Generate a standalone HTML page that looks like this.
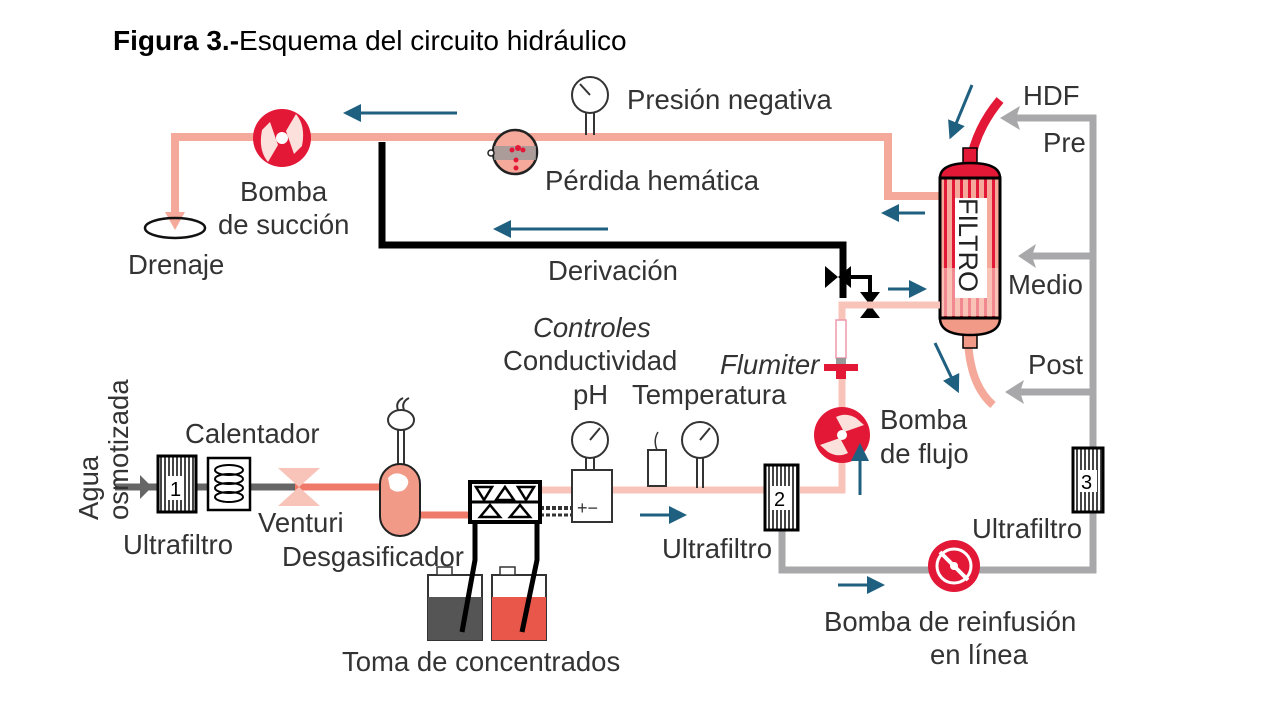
<!DOCTYPE html>
<html><head><meta charset="utf-8"><style>
html,body{margin:0;padding:0;background:#fff;}
svg{display:block;}
text{font-family:"Liberation Sans",Arial,sans-serif;fill:#333;font-size:27.5px;}
</style></head><body>
<svg width="1280" height="720" viewBox="0 0 1280 720" xmlns="http://www.w3.org/2000/svg">
<defs>
<marker id="bl" markerWidth="6" markerHeight="6" refX="3" refY="3" orient="auto" markerUnits="strokeWidth"><path d="M0,0 L6,3 L0,6 z" fill="#1f5f7f"/></marker>
<pattern id="st" width="4" height="4" patternUnits="userSpaceOnUse"><rect width="4" height="4" fill="#fff"/><rect width="2" height="4" fill="#444"/></pattern>
<pattern id="fs" width="8" height="8" patternUnits="userSpaceOnUse"><rect width="8" height="8" fill="#f4a99a"/><rect width="3" height="8" fill="#e31837"/></pattern>
</defs>
<text x="113" y="50" style="font-size:28px;fill:#000"><tspan font-weight="bold">Figura 3.-</tspan>Esquema del circuito hidráulico</text>

<polyline points="175,220 175,137 888,137 888,196 940,196" fill="none" stroke="#f4a99a" stroke-width="8"/>
<path d="M165,212 L185,212 L175,230 z" fill="#f4a99a"/>
<ellipse cx="175" cy="228" rx="30" ry="10" fill="none" stroke="#111" stroke-width="2.5"/>
<polyline points="382,142 382,245 843,245 843,298" fill="none" stroke="#000" stroke-width="7"/>
<path d="M825,266 L825,288 L838,277 z M851,266 L851,288 L838,277 z" fill="#000"/>
<polyline points="851,277 870,277 870,300" fill="none" stroke="#000" stroke-width="4"/>
<path d="M860,292 L880,292 L870,305 z M860,318 L880,318 L870,305 z" fill="#000"/>
<circle cx="282" cy="138" r="29" fill="#e31837"/>
<path d="M262,130 L270,122 L278,145 L268,162 Q258,150 262,130z" fill="#fbe0dc"/>
<path d="M302,146 L294,154 L286,131 L296,114 Q306,126 302,146z" fill="#fbe0dc"/>
<circle cx="282" cy="138" r="6" fill="#fff"/>
<line x1="586" y1="112" x2="586" y2="135" stroke="#333" stroke-width="2"/><line x1="594" y1="112" x2="594" y2="135" stroke="#333" stroke-width="2"/>
<circle cx="590" cy="95" r="18" fill="#fff" stroke="#333" stroke-width="2"/><line x1="590" y1="95" x2="580" y2="84" stroke="#333" stroke-width="2"/>
<circle cx="515" cy="152" r="22" fill="#f4a99a" stroke="#222" stroke-width="2.5"/>
<path d="M494,146 L536,146 L536,160 L494,160 z" fill="#999" opacity="0.8"/>
<circle cx="491" cy="153" r="3" fill="#fff" stroke="#222" stroke-width="1.5"/>
<circle cx="518" cy="148" r="3" fill="#e31837"/><circle cx="512" cy="150" r="2.5" fill="#e31837"/><circle cx="523" cy="150" r="2.5" fill="#e31837"/><circle cx="516" cy="160" r="2.5" fill="#e31837"/><circle cx="516" cy="168" r="2.5" fill="#e31837"/>
<path d="M1000,100 Q975,130 970,165" fill="none" stroke="#e31837" stroke-width="9"/>
<path d="M968,340 Q970,385 993,405" fill="none" stroke="#f4a99a" stroke-width="8"/>
<rect x="963" y="148" width="14" height="18" fill="#e31837" stroke="#000" stroke-width="1.5"/>
<rect x="963" y="330" width="14" height="18" fill="#f29a88" stroke="#000" stroke-width="1.5"/>
<path d="M940,178 Q940,163 970,163 Q1000,163 1000,178 z" fill="#e31837" stroke="#000" stroke-width="2.5"/>
<path d="M940,318 Q940,335 970,335 Q1000,335 1000,318 z" fill="#f29a88" stroke="#000" stroke-width="2.5"/>
<rect x="940" y="178" width="60" height="140" fill="url(#fs)" stroke="#000" stroke-width="3"/>
<rect x="942" y="268" width="56" height="48" fill="#fbd4cc" opacity="0.6"/>
<rect x="955" y="198" width="32" height="100" fill="#fff"/>
<text transform="translate(959,198) rotate(90)" style="font-size:27px;fill:#222">FILTRO</text>
<polyline points="940,305 842,305 842,490 800,490" fill="none" stroke="#f8c3b8" stroke-width="7"/>
<rect x="836" y="320" width="10" height="38" fill="#fff" stroke="#e9a" stroke-width="1.5"/>
<rect x="836" y="358" width="10" height="6" fill="#999"/>
<rect x="824" y="364" width="34" height="7" fill="#e31837"/><rect x="836" y="371" width="10" height="8" fill="#e31837"/>
<circle cx="842" cy="435" r="28" fill="#e31837"/>
<path d="M820,445 L828,452 Q838,458 848,453 L840,438 z" fill="#fbe0dc"/>
<path d="M864,425 L856,418 Q846,412 836,417 L844,432 z" fill="#fbe0dc"/>
<circle cx="842" cy="435" r="5" fill="#fff"/>
<polyline points="1010,118 1093,118 1093,570 782,570 782,530" fill="none" stroke="#a8a8ab" stroke-width="7"/>
<line x1="1093" y1="256" x2="1030" y2="256" stroke="#a8a8ab" stroke-width="7"/>
<line x1="1093" y1="392" x2="1015" y2="392" stroke="#a8a8ab" stroke-width="7"/>
<path d="M1000,118 L1020,106 L1016,118 L1020,130z M1018,256 L1036,244 L1032,256 L1036,268z M1005,392 L1024,380 L1020,392 L1024,404z" fill="#a8a8ab"/>
<rect x="1073" y="448" width="30" height="64" fill="url(#st)" stroke="#000" stroke-width="3"/>
<rect x="1079" y="470" width="18" height="22" fill="#fff"/>
<text x="1081" y="489" style="font-size:20px;fill:#000">3</text>
<circle cx="954" cy="566" r="26" fill="#e31837"/><circle cx="954" cy="566" r="17" fill="none" stroke="#fff" stroke-width="3"/>
<line x1="940" y1="552" x2="968" y2="580" stroke="#fff" stroke-width="4"/><circle cx="954" cy="566" r="4" fill="#fff"/>
<line x1="115" y1="487" x2="295" y2="487" stroke="#666" stroke-width="7"/>
<path d="M140,475 L140,499 L152,487z" fill="#666"/>
<line x1="295" y1="487" x2="395" y2="487" stroke="#f07a6a" stroke-width="7"/>
<line x1="415" y1="515" x2="472" y2="515" stroke="#f07a6a" stroke-width="7"/>
<line x1="540" y1="490" x2="765" y2="490" stroke="#f8c3b8" stroke-width="7"/>
<line x1="540" y1="508" x2="572" y2="508" stroke="#333" stroke-width="4" stroke-dasharray="4,2"/>
<line x1="540" y1="515" x2="572" y2="515" stroke="#333" stroke-width="3" stroke-dasharray="4,2"/>
<rect x="158" y="456" width="38" height="56" fill="url(#st)" stroke="#000" stroke-width="3"/>
<rect x="168" y="476" width="16" height="24" fill="#fff"/>
<text x="170" y="496" style="font-size:20px;fill:#000">1</text>
<rect x="208" y="458" width="42" height="52" fill="#fff" stroke="#000" stroke-width="2.5"/>
<g fill="none" stroke="#000" stroke-width="2"><ellipse cx="229" cy="470" rx="14" ry="5"/><ellipse cx="229" cy="479" rx="14" ry="5"/><ellipse cx="229" cy="488" rx="14" ry="5"/><ellipse cx="229" cy="497" rx="14" ry="5"/></g>
<path d="M278,468 L320,468 L299,487 L320,506 L278,506 L299,487z" fill="#f8c3b8"/>
<line x1="398" y1="412" x2="398" y2="465" stroke="#333" stroke-width="2"/><line x1="404" y1="412" x2="404" y2="465" stroke="#333" stroke-width="2"/>
<ellipse cx="401" cy="420" rx="13" ry="10" fill="#fff" stroke="#333" stroke-width="2"/>
<path d="M398,410 Q395,402 403,398 M404,410 Q401,402 409,398" fill="none" stroke="#333" stroke-width="2"/>
<rect x="380" y="464" width="40" height="72" rx="20" fill="#f29a88" stroke="#222" stroke-width="2"/>
<path d="M388,478 Q395,470 405,476 Q412,482 404,490 Q395,494 390,488z" fill="#fff"/>
<rect x="470" y="482" width="70" height="40" fill="#fff" stroke="#000" stroke-width="4"/>
<path d="M476,487 L492,487 L484,500z M496,500 L505,487 L514,500z M518,487 L534,487 L526,500z M480,517 L490,505 L500,517z M510,517 L520,505 L530,517z" fill="none" stroke="#000" stroke-width="2.5"/>
<line x1="470" y1="502" x2="540" y2="502" stroke="#000" stroke-width="3"/>
<rect x="428" y="575" width="54" height="65" fill="#fff" stroke="#333" stroke-width="2"/><rect x="428" y="597" width="54" height="43" fill="#555"/>
<rect x="437" y="567" width="15" height="8" fill="#fff" stroke="#333" stroke-width="1.5"/>
<rect x="492" y="575" width="54" height="65" fill="#fff" stroke="#333" stroke-width="2"/><rect x="492" y="597" width="54" height="43" fill="#e8574a"/>
<rect x="500" y="567" width="15" height="8" fill="#fff" stroke="#333" stroke-width="1.5"/>
<polyline points="475,522 475,560 462,632" fill="none" stroke="#000" stroke-width="5"/>
<polyline points="537,522 537,560 522,632" fill="none" stroke="#000" stroke-width="5"/>
<rect x="572" y="470" width="40" height="52" fill="#fff" stroke="#333" stroke-width="2"/>
<text x="577" y="514" style="font-size:18px">+−</text>
<line x1="586" y1="458" x2="586" y2="470" stroke="#333" stroke-width="2"/><line x1="594" y1="458" x2="594" y2="470" stroke="#333" stroke-width="2"/>
<circle cx="590" cy="440" r="18" fill="#fff" stroke="#333" stroke-width="2"/><line x1="590" y1="440" x2="600" y2="428" stroke="#333" stroke-width="2"/>
<rect x="648" y="450" width="18" height="36" fill="#fff" stroke="#333" stroke-width="2"/>
<path d="M657,450 Q653,440 658,432" fill="none" stroke="#333" stroke-width="1.5"/>
<line x1="697" y1="458" x2="697" y2="488" stroke="#333" stroke-width="2"/><line x1="703" y1="458" x2="703" y2="488" stroke="#333" stroke-width="2"/>
<circle cx="700" cy="440" r="18" fill="#fff" stroke="#333" stroke-width="2"/><line x1="700" y1="440" x2="710" y2="428" stroke="#333" stroke-width="2"/>
<rect x="765" y="465" width="33" height="65" fill="url(#st)" stroke="#000" stroke-width="3"/>
<rect x="772" y="486" width="18" height="24" fill="#fff"/>
<text x="774" y="506" style="font-size:20px;fill:#000">2</text>
<g stroke="#1f5f7f" stroke-width="3" marker-end="url(#bl)">
<line x1="457" y1="113" x2="352" y2="113"/>
<line x1="608" y1="229" x2="502" y2="229"/>
<line x1="972" y1="85" x2="953" y2="131"/>
<line x1="925" y1="213" x2="890" y2="213"/>
<line x1="888" y1="289" x2="918" y2="289"/>
<line x1="935" y1="343" x2="955" y2="385"/>
<line x1="860" y1="495" x2="860" y2="452"/>
<line x1="640" y1="515" x2="678" y2="515"/>
<line x1="838" y1="585" x2="876" y2="585"/>
</g>
<text x="627" y="109">Presión negativa</text>
<text x="545" y="190">Pérdida hemática</text>
<text x="240" y="201">Bomba</text>
<text x="218" y="234">de succión</text>
<text x="128" y="274">Drenaje</text>
<text x="548" y="280">Derivación</text>
<text x="1023" y="105">HDF</text>
<text x="1043" y="152">Pre</text>
<text x="1008" y="294">Medio</text>
<text x="1028" y="374">Post</text>
<text x="533" y="337" font-style="italic">Controles</text>
<text x="503" y="370">Conductividad</text>
<text x="573" y="404">pH</text>
<text x="632" y="404">Temperatura</text>
<text x="720" y="374" font-style="italic">Flumiter</text>
<text x="880" y="429">Bomba</text>
<text x="880" y="463">de flujo</text>
<text x="185" y="443">Calentador</text>
<text x="123" y="554">Ultrafiltro</text>
<text x="258" y="532">Venturi</text>
<text x="282" y="566">Desgasificador</text>
<text x="342" y="671">Toma de concentrados</text>
<text x="662" y="558">Ultrafiltro</text>
<text x="972" y="538">Ultrafiltro</text>
<text x="824" y="631">Bomba de reinfusión</text>
<text x="930" y="664">en línea</text>
<text transform="translate(98,520) rotate(-90)">Agua</text>
<text transform="translate(128,520) rotate(-90)">osmotizada</text>
</svg>
</body></html>
